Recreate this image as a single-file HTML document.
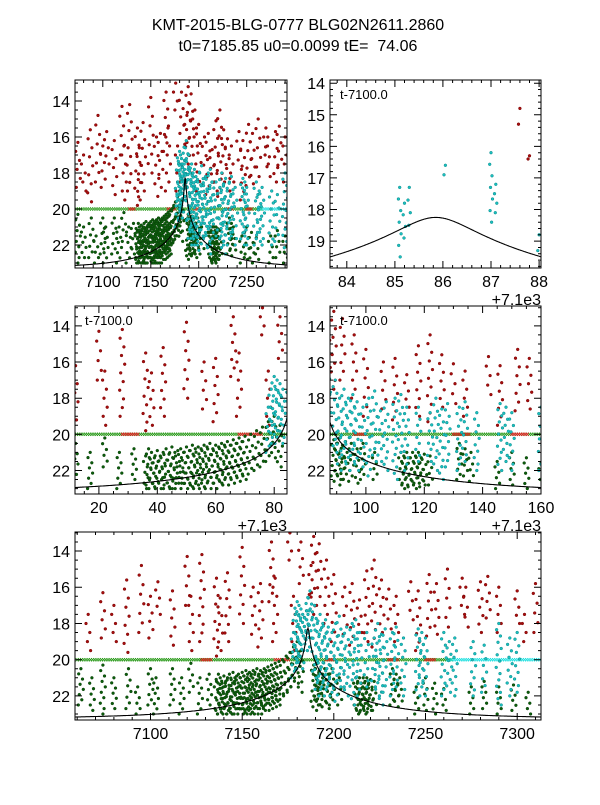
<!DOCTYPE html>
<html><head><meta charset="utf-8"><style>
body{margin:0;background:#fff;}
svg text{font-family:"Liberation Sans",sans-serif;}
</style></head><body>
<svg id="fig" width="600" height="800" xmlns="http://www.w3.org/2000/svg">
<rect width="600" height="800" fill="#fff"/>
<text x="298" y="30" font-size="16" text-anchor="middle">KMT-2015-BLG-0777 BLG02N2611.2860</text>
<text x="298" y="51" font-size="16" text-anchor="middle">t0=7185.85 u0=0.0099 tE=&#160; 74.06</text>
</svg>
<script>
// ---- data (time HJD', magnitude top, magnitude bottom) ----
const redCols=[[7066,17.5,19.5],[7074,16.3,18.8],[7080,17,19],[7087,15.6,19.6],[7095,14.8,18.5],[7100,16.5,18.8],[7104,15.7,17.5],[7112,16.2,19.2],[7120,14.3,17],[7122,16.5,19.5],[7128,14.2,19],[7136,15.5,19.8],[7138,16.6,19.5],[7142,15.2,19],[7150,13.8,18],[7156,16,18.6],[7160,15.8,19.3],[7166,13.5,16.8],[7168,15.5,19],[7176,13,14.5],[7178,16.5,19.5],[7182,13.5,15.8],[7189,13.2,17.5],[7192,13.6,17],[7196,14.5,18],[7200,15.3,19],[7206,16,18.6],[7210,15.8,19.2],[7214,16.7,18.5],[7218,15.1,19],[7222,14.5,19.3],[7226,15.6,18.5],[7230,16.1,18.3],[7234,16.5,19],[7242,15.7,17.8],[7246,16.2,19.5],[7252,15.3,18.7],[7256,15.8,18.6],[7262,15,18.2],[7270,15.5,17.5],[7272,16,18.2],[7280,15.7,18.5],[7284,15.4,17.7],[7290,16,18.5],[7300,16.2,18],[7304,17.5,19],[7310,15.8,18.5],[7187.6,14.8,15.3],[7187.8,16.3,16.4]];
const greenCols=[[7062,20.5,22.5],[7068,21,22.8],[7074,20.3,23],[7080,21,22.7],[7088,20.5,22.7],[7093,21.5,23],[7100,20.5,22.5],[7103,21,23],[7112,20.5,22.5],[7117,21,23],[7122,20.2,21.8],[7127,21,23],[7132,20.8,22.5],[7136,21.2,23],[7137,20.8,22.8],[7138,21,23],[7139,21.3,23],[7140,20.9,22.9],[7141,21.2,23],[7142,21,22.8],[7143,20.8,23],[7144,21.1,23],[7145,20.7,22.9],[7146,21,23],[7147,20.9,23],[7148,20.8,22.7],[7149,21,23],[7150,20.7,23],[7151,20.9,22.8],[7152,20.6,23],[7153,20.8,22.9],[7154,20.7,23],[7155,20.8,22.8],[7156,20.6,23],[7157,20.7,22.9],[7158,20.5,23],[7159,20.8,22.7],[7160,20.6,23],[7161,20.7,22.6],[7162,20.5,22.8],[7163,20.6,22.7],[7164,20.4,22.8],[7165,20.6,22.5],[7166,20.3,22.7],[7167,20.5,22.4],[7168,20.2,22.6],[7169,20.4,22.3],[7170,20.1,22.5],[7172,20,22.2],[7174,19.8,22],[7176,19.6,21.8],[7178,19.3,21.5],[7180,19,21.3],[7182,19.5,21.8],[7189,20.3,22.3],[7190,20.5,22.6],[7191,20.2,22.5],[7192,20.6,22.8],[7193,20.4,22.5],[7195,20.5,22.6],[7197,20.8,22.7],[7199,20.5,22.5],[7203,21,22.5],[7212,21,22.8],[7213,21.2,23],[7214,21,22.8],[7215,21.3,22.9],[7216,21,22.8],[7217,21.2,23],[7218,21,22.7],[7219,21.3,22.9],[7220,21.1,22.8],[7222,21.2,22.8],[7232,20.5,22.5],[7234,20.8,22.3],[7236,21,22.6],[7245,21.5,23],[7250,21,22.8],[7255,21.3,23],[7260,21.6,22.8],[7275,21.5,23],[7282,21.2,22.7],[7290,21.5,23],[7298,21.4,22.8],[7306,21.8,23]];
const cyanCols=[[7178,18.5,21],[7179,17.5,20.5],[7180,16.8,20],[7181,17,20.5],[7182,17.2,19.8],[7183,17.5,20.5],[7185.1,17.3,19.5],[7185.2,17.8,18.9],[7185.3,17.3,18.5],[7186.05,16.6,16.9],[7187.0,16.2,18.4],[7187.1,17.2,18.1],[7188.0,18.8,19.3],[7189.5,17,21],[7191,18,22],[7192.5,17.5,21.5],[7194,18,22],[7195.5,17.8,21.5],[7197,18.2,22],[7199,18.5,21.8],[7201,18,22.3],[7203,17.6,21.5],[7205,18.7,21.5],[7207,18.2,22],[7210,18,22.5],[7212,17.8,21],[7214,18.5,22],[7218,18.5,21.5],[7222,18.8,21.5],[7224,18,22],[7226,18.6,22.5],[7228,18.3,21.8],[7232,18.5,22],[7234,18.2,21.5],[7238,18.8,22],[7246,18.3,22],[7248,18.5,21.5],[7250,18.8,22],[7260,18.5,22],[7263,19,21.8],[7266,18.8,22],[7276,19,22],[7282,19.2,21.8],[7290,18,22.5],[7296,18.8,22],[7300,18.5,21.8]];
const greenLine=[7060,7265];
const cyanLine=[7262,7315];
const redLineRanges=[[7128,7134],[7168,7176],[7196,7200],[7230,7236],[7250,7256]];
const lineMag=[20];
const t0=7185.85,u0=0.0099,tE=74.06,mBase=23.26;

const panels=[
 {name:'panel-full-top-left',x:75,y:80,w:212,h:188,t1:7071,t2:7292,m1:12.83,m2:23.28,xt:[7100,7150,7200,7250],xl:['7100','7150','7200','7250'],xm:10,yt:[14,16,18,20,22],ym:0.5},
 {name:'panel-peak-zoom',x:330,y:80,w:211,h:188,t1:7183.65,t2:7188.04,m1:13.9,m2:19.85,xt:[7184,7185,7186,7187,7188],xl:['84','85','86','87','88'],xm:0.2,yt:[14,15,16,17,18,19],ym:0.2,off:true},
 {name:'panel-rise',x:75,y:306,w:212,h:188,t1:7111.8,t2:7184.4,m1:12.9,m2:23.3,xt:[7120,7140,7160,7180],xl:['20','40','60','80'],xm:5,yt:[14,16,18,20,22],ym:0.5,off:true},
 {name:'panel-fall',x:330,y:306,w:211,h:188,t1:7187.7,t2:7260,m1:12.9,m2:23.3,xt:[7200,7220,7240,7260],xl:['100','120','140','160'],xm:5,yt:[14,16,18,20,22],ym:0.5,off:true},
 {name:'panel-full-bottom',x:75,y:532,w:466,h:188,t1:7058.8,t2:7313,m1:12.95,m2:23.33,xt:[7100,7150,7200,7250,7300],xl:['7100','7150','7200','7250','7300'],xm:10,yt:[14,16,18,20,22],ym:0.5}
];
const NS='http://www.w3.org/2000/svg';
const svg=document.getElementById('fig');
function mk(tag,attrs,parent){const e=document.createElementNS(NS,tag);for(const k in attrs)e.setAttribute(k,attrs[k]);parent.appendChild(e);return e;}
const jit=[0,-2.2,1.6,-0.8,2.4,-1.6,0.9,-2.6,1.2];
panels.forEach((p,pi)=>{
 const X=t=>p.x+(t-p.t1)/(p.t2-p.t1)*p.w;
 const Y=m=>p.y+(m-p.m1)/(p.m2-p.m1)*p.h;
 const g=mk('g',{},svg);
 
 
 const cp=mk('clipPath',{id:'c'+pi},g);
 mk('rect',{x:p.x,y:p.y,width:p.w,height:p.h},cp);
 const d=mk('g',{'clip-path':'url(#c'+pi+')'},g);
 const fine=(p.t2-p.t1)<10;
 function cols(arr,fill,stroke,nm,sp){
  const sg=mk('g',{fill:fill,stroke:stroke,'stroke-width':0.5},d);
  
  
  arr.forEach(c=>{
   if(c[0]<p.t1-1||c[0]>p.t2+1)return;
   const n=Math.max(2,Math.round((c[2]-c[1])/sp)+1);
   for(let i=0;i<n;i++){
    const m=c[1]+i*(c[2]-c[1])/(n-1);
    const dx=fine?jit[i%9]*0.6:jit[i%9];
    mk('circle',{cx:(X(c[0])+dx).toFixed(1),cy:Y(m).toFixed(1),r:1.4},sg);
   }
  });
 }
 function xline(a,b,color,nm){
  const sg=mk('g',{stroke:color,'stroke-width':0.8},d);
  
  
  const lo=Math.max(a,p.t1-1),hi=Math.min(b,p.t2+1);
  const step=Math.max(0.15,(p.t2-p.t1)/p.w*2.2);
  const y=Y(lineMag[0]);
  for(let t=lo;t<=hi;t+=step){const x=X(t);
   mk('path',{d:`M${(x-1.6).toFixed(1)} ${(y-1.6).toFixed(1)}l3.2 3.2M${(x-1.6).toFixed(1)} ${(y+1.6).toFixed(1)}l3.2 -3.2`},sg);}
 }
 xline(greenLine[0],greenLine[1],'#2a9a1a','limit-line-green');
 redLineRanges.forEach(r=>xline(r[0],r[1],'#e02020','limit-line-red'));
 xline(cyanLine[0],cyanLine[1],'#20e0e0','limit-line-cyan');
 cols(greenCols,'#0b5e0b','#0a3f0a','green-points',0.3);
 cols(redCols,'#a50f0f','#7a0000','red-points',0.5);
 cols(cyanCols,'#1cc0c0','#0a8a8a','cyan-points',0.35);
 let pts=[];
 for(let k=0;k<=600;k++){const t=p.t1+(p.t2-p.t1)*k/600;const tau=(t-t0)/tE;const u=Math.sqrt(u0*u0+tau*tau);
  const A=(u*u+2)/(u*Math.sqrt(u*u+4));pts.push(X(t).toFixed(1)+','+Y(mBase-2.5*Math.log10(A)).toFixed(1));}
 const ml=mk('polyline',{points:pts.join(' '),fill:'none',stroke:'#000','stroke-width':1.1},d);
 
 
 const fr=mk('rect',{x:p.x,y:p.y,width:p.w,height:p.h,fill:'none',stroke:'#000','stroke-width':1},g);
 
 
 let tk='';
 const mt0=Math.ceil(p.t1/p.xm)*p.xm;
 for(let t=mt0;t<=p.t2+1e-6;t+=p.xm){const x=X(t).toFixed(1);tk+=`M${x} ${p.y+p.h}v-3M${x} ${p.y}v3`;}
 p.xt.forEach(t=>{const x=X(t).toFixed(1);tk+=`M${x} ${p.y+p.h}v-7M${x} ${p.y}v7`;});
 for(let m=Math.ceil(p.m1/p.ym)*p.ym;m<=p.m2;m+=p.ym){const y=Y(m).toFixed(1);tk+=`M${p.x} ${y}h3M${p.x+p.w} ${y}h-3`;}
 p.yt.forEach(m=>{const y=Y(m).toFixed(1);tk+=`M${p.x} ${y}h7M${p.x+p.w} ${y}h-7`;});
 mk('path',{d:tk,stroke:'#000','stroke-width':1,fill:'none'},g);
 p.xt.forEach((t,i)=>{const e=mk('text',{x:X(t),y:p.y+p.h+19,'font-size':16,'text-anchor':'middle'},g);e.textContent=p.xl[i];
  
  });
 p.yt.forEach(m=>{const e=mk('text',{x:p.x-5,y:Y(m)+6,'font-size':16,'text-anchor':'end'},g);e.textContent=String(m);
  
  });
 if(p.off){
  const o=mk('text',{x:p.x+p.w,y:p.y+p.h+37,'font-size':16,'text-anchor':'end'},g);o.textContent='+7.1e3';
  
  
  const a=mk('text',{x:p.x+10,y:p.y+19,'font-size':13},g);a.textContent='t-7100.0';
  
  
 }
});
</script>
</body></html>
